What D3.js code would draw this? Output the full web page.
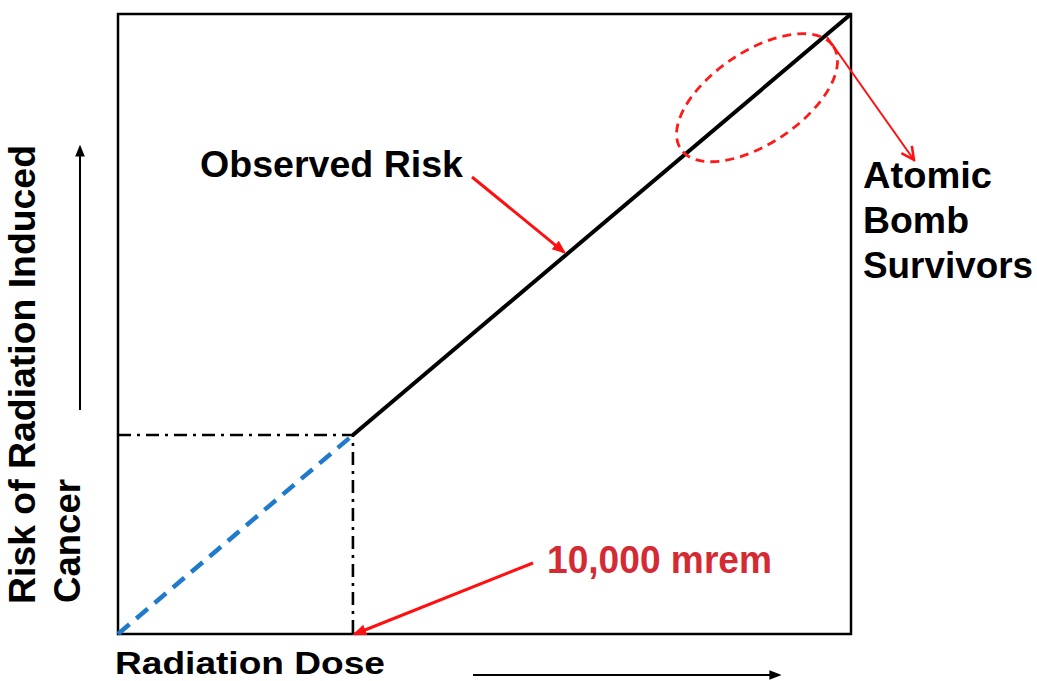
<!DOCTYPE html>
<html><head><meta charset="utf-8">
<script src="https://cdn.jsdelivr.net/npm/d3@7"></script>
<style>body{margin:0;background:#fff}svg{display:block}text{font-family:"Liberation Sans",Arial,sans-serif;font-weight:bold}</style>
</head><body>
<svg id="c" width="1037" height="681"></svg>
<script>
// ---- data ----
const xDomain = [0, 31200];          // radiation dose (mrem), conceptual
const yDomain = [0, 1];              // relative risk
const extrapDose = [0, 10000];       // linear no-threshold extrapolation
const extrapRisk = [0, 0.321];
const observedDose = [10000, 31200]; // observed risk region
const observedRisk = [0.321, 1];
const kneeDose = 10000, kneeRisk = 0.321;
const bombDose = 27200, bombRisk = 0.865; // atomic bomb survivors cluster
const pointedDose = 18980, pointedRisk = 0.616; // where "Observed Risk" arrow hits the line
const labels = {
  x: "Radiation Dose",
  y1: "Risk of Radiation Induced",
  y2: "Cancer",
  observed: "Observed Risk",
  dose: "10,000 mrem",
  bomb: ["Atomic", "Bomb", "Survivors"]
};

// ---- layout ----
const svg = d3.select("#c");
const L = 118, R = 851, T = 14, B = 634;
const x = d3.scaleLinear().domain(xDomain).range([L, R]);
const y = d3.scaleLinear().domain(yDomain).range([B, T]);

const defs = svg.append("defs");
function marker(id, color, open, size) {
  const m = defs.append("marker").attr("id", id).attr("viewBox", "0 0 10 10")
    .attr("refX", open ? 9 : 8).attr("refY", 5).attr("markerWidth", size).attr("markerHeight", size)
    .attr("markerUnits", "userSpaceOnUse").attr("orient", "auto");
  if (open) m.append("path").attr("d", "M1,1 L9,5 L1,9").attr("fill", "none").attr("stroke", color).attr("stroke-width", 1.6);
  else m.append("path").attr("d", "M0,1 L10,5 L0,9 Z").attr("fill", color);
}
marker("redHead", "#ff1010", false, 14);
marker("redOpen", "#ff1010", true, 16);
marker("blackHead", "#000", false, 12);

// frame
svg.append("rect").attr("x", L).attr("y", T).attr("width", R - L).attr("height", B - T)
  .attr("fill", "none").attr("stroke", "#000").attr("stroke-width", 2.5);

// reference dash-dot lines at knee
svg.append("path").attr("d", `M${x(0)},${y(kneeRisk)}H${x(kneeDose)}V${y(0)}`)
  .attr("fill", "none").attr("stroke", "#000").attr("stroke-width", 2.6)
  .attr("stroke-dasharray", "13,6,3,6");

const line = d3.line().x(d => x(d[0])).y(d => y(d[1]));
// extrapolated (dashed blue)
svg.append("path").datum(d3.zip(extrapDose, extrapRisk)).attr("d", line)
  .attr("fill", "none").attr("stroke", "#1f7acb").attr("stroke-width", 4.5)
  .attr("stroke-dasharray", "15,9");
// observed (solid black)
svg.append("path").datum(d3.zip(observedDose, observedRisk)).attr("d", line)
  .attr("fill", "none").attr("stroke", "#000").attr("stroke-width", 4);

// ellipse around atomic bomb survivors
svg.append("ellipse").attr("cx", x(bombDose)).attr("cy", y(bombRisk))
  .attr("rx", 92).attr("ry", 46)
  .attr("transform", `rotate(-34 ${x(bombDose)} ${y(bombRisk)})`)
  .attr("fill", "none").attr("stroke", "#ff1a1a").attr("stroke-width", 2.8)
  .attr("stroke-dasharray", "9,6");

// annotation arrows
svg.append("line").attr("x1", 472).attr("y1", 177).attr("x2", x(pointedDose)).attr("y2", y(pointedRisk))
  .attr("stroke", "#ff1010").attr("stroke-width", 3).attr("marker-end", "url(#redHead)");
svg.append("line").attr("x1", 533).attr("y1", 563).attr("x2", x(kneeDose) + 2).attr("y2", y(0))
  .attr("stroke", "#ff1010").attr("stroke-width", 3).attr("marker-end", "url(#redHead)");
svg.append("line").attr("x1", 827).attr("y1", 37).attr("x2", 914).attr("y2", 160)
  .attr("stroke", "#ff1010").attr("stroke-width", 2).attr("marker-end", "url(#redOpen)");

// axis direction arrows
svg.append("line").attr("x1", 80).attr("y1", 410).attr("x2", 80).attr("y2", 147)
  .attr("stroke", "#000").attr("stroke-width", 2).attr("marker-end", "url(#blackHead)");
svg.append("line").attr("x1", 473).attr("y1", 675).attr("x2", 779).attr("y2", 675)
  .attr("stroke", "#000").attr("stroke-width", 2).attr("marker-end", "url(#blackHead)");

// texts
function txt(s, xx, yy, size, w, color) {
  return svg.append("text").attr("x", xx).attr("y", yy).attr("font-size", size)
    .attr("fill", color || "#000").attr("textLength", w).attr("lengthAdjust", "spacingAndGlyphs").text(s);
}
txt(labels.x, 115, 674, 31, 270);
txt(labels.observed, 200, 177, 36, 263);
txt(labels.dose, 547, 573, 38, 225, "#d42a34");
txt(labels.bomb[0], 863, 188, 36, 129);
txt(labels.bomb[1], 863, 233, 36, 106);
txt(labels.bomb[2], 863, 278, 36, 170);

svg.append("text").attr("transform", "translate(35,604) rotate(-90)").attr("font-size", 36)
  .attr("textLength", 459).attr("lengthAdjust", "spacingAndGlyphs").text(labels.y1);
svg.append("text").attr("transform", "translate(80,603) rotate(-90)").attr("font-size", 36)
  .attr("textLength", 124).attr("lengthAdjust", "spacingAndGlyphs").text(labels.y2);
</script>
</body></html>
